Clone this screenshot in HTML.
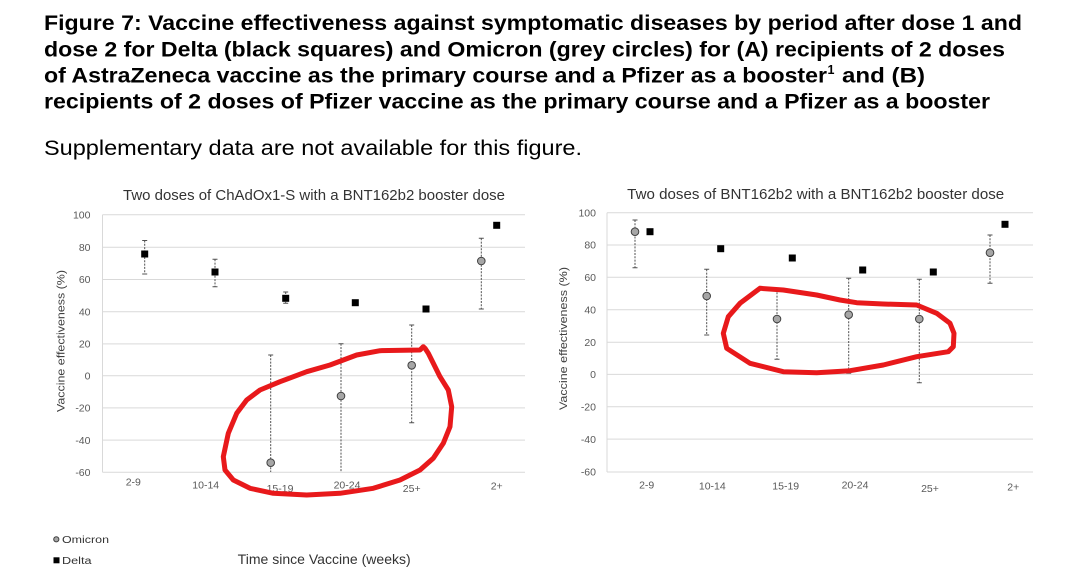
<!DOCTYPE html>
<html><head><meta charset="utf-8"><style>
html,body{margin:0;padding:0;background:#fff;}
svg{display:block;}
text{font-family:"Liberation Sans",Arial,sans-serif;}
</style></head><body>
<svg width="1083" height="581" viewBox="0 0 1083 581" xmlns="http://www.w3.org/2000/svg">
<rect width="1083" height="581" fill="#fff"/>
<!-- Heading -->
<g font-weight="bold" font-size="21" fill="#000">
<text x="44" y="30" textLength="978" lengthAdjust="spacingAndGlyphs">Figure 7: Vaccine effectiveness against symptomatic diseases by period after dose 1 and</text>
<text x="44" y="56.3" textLength="961" lengthAdjust="spacingAndGlyphs">dose 2 for Delta (black squares) and Omicron (grey circles) for (A) recipients of 2 doses</text>
<text x="44" y="82.5" textLength="783" lengthAdjust="spacingAndGlyphs">of AstraZeneca vaccine as the primary course and a Pfizer as a booster</text>
<text x="827.5" y="74" font-size="12.5">1</text>
<text x="842" y="82.5" textLength="83" lengthAdjust="spacingAndGlyphs">and (B)</text>
<text x="44" y="108.7" textLength="946" lengthAdjust="spacingAndGlyphs">recipients of 2 doses of Pfizer vaccine as the primary course and a Pfizer as a booster</text>
</g>
<text x="44" y="155" font-size="21.5" fill="#000" textLength="538" lengthAdjust="spacingAndGlyphs">Supplementary data are not available for this figure.</text>

<!-- LEFT CHART -->
<g stroke="#d9d9d9" stroke-width="1">
<line x1="102.5" y1="214.7" x2="525" y2="214.7"/>
<line x1="102.5" y1="247.3" x2="525" y2="247.3"/>
<line x1="102.5" y1="279.5" x2="525" y2="279.5"/>
<line x1="102.5" y1="311.8" x2="525" y2="311.8"/>
<line x1="102.5" y1="343.9" x2="525" y2="343.9"/>
<line x1="102.5" y1="375.7" x2="525" y2="375.7"/>
<line x1="102.5" y1="407.9" x2="525" y2="407.9"/>
<line x1="102.5" y1="440.1" x2="525" y2="440.1"/>
<line x1="102.5" y1="472.3" x2="525" y2="472.3"/>
<line x1="102.5" y1="214.7" x2="102.5" y2="472.3"/>
</g>
<text x="314" y="200" text-anchor="middle" font-size="14.5" fill="#333" textLength="382" lengthAdjust="spacingAndGlyphs">Two doses of ChAdOx1-S with a BNT162b2 booster dose</text>
<g font-size="10.5" fill="#595959" text-anchor="end">
<text x="90.5" y="218.4">100</text>
<text x="90.5" y="251">80</text>
<text x="90.5" y="283.2">60</text>
<text x="90.5" y="315.5">40</text>
<text x="90.5" y="347.6">20</text>
<text x="90.5" y="379.4">0</text>
<text x="90.5" y="411.6">-20</text>
<text x="90.5" y="443.8">-40</text>
<text x="90.5" y="476">-60</text>
</g>
<text transform="translate(64.5,341) rotate(-90)" text-anchor="middle" font-size="11" fill="#404040" textLength="142" lengthAdjust="spacingAndGlyphs">Vaccine effectiveness (%)</text>
<g font-size="10.5" fill="#595959" text-anchor="middle">
<text x="133.3" y="485.4">2-9</text>
<text x="205.7" y="488.7">10-14</text>
<text x="280" y="492">15-19</text>
<text x="347" y="488.7">20-24</text>
<text x="411.7" y="492">25+</text>
<text x="496.7" y="489.7">2+</text>
</g>
<!-- error bars left -->
<g stroke="#505050" stroke-width="1" fill="none">
<g stroke-dasharray="2,1.3">
<line x1="144.7" y1="240.5" x2="144.7" y2="274"/>
<line x1="215" y1="259.3" x2="215" y2="286.7"/>
<line x1="285.7" y1="292" x2="285.7" y2="303.3"/>
<line x1="270.7" y1="355" x2="270.7" y2="472"/>
<line x1="341" y1="343.7" x2="341" y2="472"/>
<line x1="411.7" y1="325" x2="411.7" y2="422.7"/>
<line x1="481.3" y1="238.3" x2="481.3" y2="309"/>
</g>
<path d="M142.2 240.5h5M142.2 274h5M212.5 259.3h5M212.5 286.7h5M283.2 292h5M283.2 303.3h5M268.2 355h5M338.5 343.7h5M409.2 325h5M409.2 422.7h5M478.8 238.3h5M478.8 309h5"/>
</g>
<g fill="#000">
<rect x="141.2" y="250.5" width="7" height="7"/>
<rect x="211.5" y="268.5" width="7" height="7"/>
<rect x="282.2" y="294.8" width="7" height="7"/>
<rect x="351.8" y="299.2" width="7" height="7"/>
<rect x="422.5" y="305.5" width="7" height="7"/>
<rect x="493.2" y="221.8" width="7" height="7"/>
</g>
<g fill="#a6a6a6" stroke="#404040" stroke-width="1">
<circle cx="270.7" cy="462.7" r="3.8"/>
<circle cx="341" cy="396" r="3.8"/>
<circle cx="411.7" cy="365.3" r="3.8"/>
<circle cx="481.3" cy="261" r="3.8"/>
</g>
<polyline fill="none" stroke="#e8191b" stroke-width="5" stroke-linejoin="round" stroke-linecap="round" points="423.3,346.7 420,350 380,350.7 356.7,355 330,365 306.7,371.7 280,381.7 260,390 246.7,400 236.7,413.3 228.3,433.3 223.3,456.7 225,470 233.3,480 250,488.3 273.3,493.3 306.7,495 340,493.3 373.3,488.3 400,480 420,470 433.3,458.3 443.3,443.3 450,426.7 451.7,406.7 448.3,390 440,376.7 433.3,363.3 428.3,353.3 425,348.3 423.3,346.7"/>

<!-- RIGHT CHART -->
<g stroke="#d9d9d9" stroke-width="1">
<line x1="607" y1="212.7" x2="1033" y2="212.7"/>
<line x1="607" y1="245" x2="1033" y2="245"/>
<line x1="607" y1="277.2" x2="1033" y2="277.2"/>
<line x1="607" y1="309.8" x2="1033" y2="309.8"/>
<line x1="607" y1="342.2" x2="1033" y2="342.2"/>
<line x1="607" y1="374.4" x2="1033" y2="374.4"/>
<line x1="607" y1="406.7" x2="1033" y2="406.7"/>
<line x1="607" y1="439.1" x2="1033" y2="439.1"/>
<line x1="607" y1="472" x2="1033" y2="472"/>
<line x1="607" y1="212.7" x2="607" y2="472"/>
</g>
<text x="815.7" y="199" text-anchor="middle" font-size="14.5" fill="#333" textLength="377" lengthAdjust="spacingAndGlyphs">Two doses of BNT162b2 with a BNT162b2 booster dose</text>
<g font-size="10.5" fill="#595959" text-anchor="end">
<text x="596" y="216.4">100</text>
<text x="596" y="248.7">80</text>
<text x="596" y="280.9">60</text>
<text x="596" y="313.5">40</text>
<text x="596" y="345.9">20</text>
<text x="596" y="378.1">0</text>
<text x="596" y="410.4">-20</text>
<text x="596" y="442.8">-40</text>
<text x="596" y="475.7">-60</text>
</g>
<text transform="translate(567,338.5) rotate(-90)" text-anchor="middle" font-size="11" fill="#404040" textLength="143" lengthAdjust="spacingAndGlyphs">Vaccine effectiveness (%)</text>
<g font-size="10.5" fill="#595959" text-anchor="middle">
<text x="646.7" y="488.7">2-9</text>
<text x="712.3" y="489.7">10-14</text>
<text x="785.7" y="489.7">15-19</text>
<text x="855" y="488.7">20-24</text>
<text x="930" y="492">25+</text>
<text x="1013.3" y="490.4">2+</text>
</g>
<g stroke="#505050" stroke-width="1" fill="none">
<g stroke-dasharray="2,1.3">
<line x1="635" y1="220" x2="635" y2="267.7"/>
<line x1="706.7" y1="269.3" x2="706.7" y2="335"/>
<line x1="777" y1="289" x2="777" y2="359.3"/>
<line x1="848.7" y1="278.3" x2="848.7" y2="373.3"/>
<line x1="919.3" y1="279.3" x2="919.3" y2="382.7"/>
<line x1="990" y1="235" x2="990" y2="283.3"/>
</g>
<path d="M632.5 220h5M632.5 267.7h5M704.2 269.3h5M704.2 335h5M774.5 359.3h5M846.2 278.3h5M846.2 373.3h5M916.8 279.3h5M916.8 382.7h5M987.5 235h5M987.5 283.3h5"/>
</g>
<g fill="#000">
<rect x="646.5" y="228.2" width="7" height="7"/>
<rect x="717.2" y="245.2" width="7" height="7"/>
<rect x="788.8" y="254.5" width="7" height="7"/>
<rect x="859.2" y="266.5" width="7" height="7"/>
<rect x="929.8" y="268.5" width="7" height="7"/>
<rect x="1001.5" y="220.8" width="7" height="7"/>
</g>
<g fill="#a6a6a6" stroke="#404040" stroke-width="1">
<circle cx="635" cy="231.7" r="3.8"/>
<circle cx="706.7" cy="296" r="3.8"/>
<circle cx="777" cy="319" r="3.8"/>
<circle cx="848.7" cy="314.7" r="3.8"/>
<circle cx="919.3" cy="319" r="3.8"/>
<circle cx="990" cy="252.7" r="3.8"/>
</g>
<polyline fill="none" stroke="#e8191b" stroke-width="5" stroke-linejoin="round" stroke-linecap="round" points="760,288.3 783.3,290 816.7,295 840,300 856.7,302.7 883.3,304 916.7,305 936.7,313.3 950,323.3 954,333.3 953.3,346.7 948.3,351.7 916.7,356.7 883.3,365 850,370.7 816.7,372.7 783.3,371.7 750,363.3 726.7,348.3 723.3,333.3 728.3,316.7 740,303.3 760,288.3"/>

<!-- Legend & x title -->
<circle cx="56.3" cy="539.3" r="2.6" fill="#a6a6a6" stroke="#404040" stroke-width="1"/>
<text x="62" y="542.8" font-size="10" fill="#333" textLength="47" lengthAdjust="spacingAndGlyphs">Omicron</text>
<rect x="53.5" y="557.3" width="6" height="6" fill="#000"/>
<text x="62" y="564" font-size="10" fill="#333" textLength="29.5" lengthAdjust="spacingAndGlyphs">Delta</text>
<text x="237.7" y="564" font-size="14" fill="#333" textLength="173" lengthAdjust="spacingAndGlyphs">Time since Vaccine (weeks)</text>
</svg>
</body></html>
